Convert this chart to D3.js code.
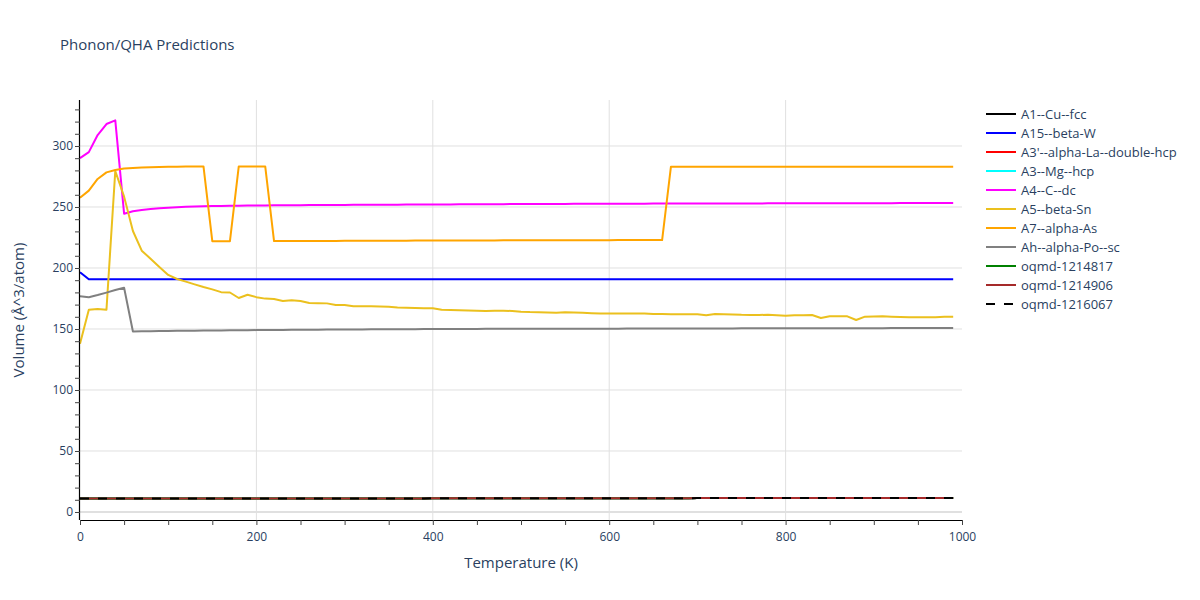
<!DOCTYPE html>
<html>
<head>
<meta charset="utf-8">
<script src="https://cdn.jsdelivr.net/npm/d3@7"></script>
<style>
  html, body { margin: 0; padding: 0; background: #fff; }
  text { font-family: "Open Sans", verdana, arial, sans-serif; }
</style>
</head>
<body>
<svg id="chart" width="1200" height="600"></svg>
<script>
const temperatures = [
  0, 10, 20, 30, 40, 50, 60, 70, 80, 90,
  100, 110, 120, 130, 140, 150, 160, 170, 180, 190,
  200, 210, 220, 230, 240, 250, 260, 270, 280, 290,
  300, 310, 320, 330, 340, 350, 360, 370, 380, 390,
  400, 410, 420, 430, 440, 450, 460, 470, 480, 490,
  500, 510, 520, 530, 540, 550, 560, 570, 580, 590,
  600, 610, 620, 630, 640, 650, 660, 670, 680, 690,
  700, 710, 720, 730, 740, 750, 760, 770, 780, 790,
  800, 810, 820, 830, 840, 850, 860, 870, 880, 890,
  900, 910, 920, 930, 940, 950, 960, 970, 980, 990
];

const seriesNames = [
  "A1--Cu--fcc", "A15--beta-W", "A3'--alpha-La--double-hcp", "A3--Mg--hcp",
  "A4--C--dc", "A5--beta-Sn", "A7--alpha-As", "Ah--alpha-Po--sc",
  "oqmd-1214817", "oqmd-1214906", "oqmd-1216067"
];
const seriesColors = [
  "#000000", "#0000ff", "#ff0000", "#00ffff",
  "#ff00ff", "#ebc01e", "#ffa500", "#808080",
  "#008000", "#a52a2a", "#000000"
];
const seriesDashed = [false, false, false, false, false, false, false, false, false, false, true];

const volA1 = [
  11.0, 11.0, 11.0, 11.0, 11.0, 11.0, 11.0, 11.0, 11.0, 11.0,
  11.0, 11.0, 11.0, 11.0, 11.0, 11.0, 11.0, 11.0, 11.0, 11.0,
  11.1, 11.1, 11.1, 11.1, 11.1, 11.1, 11.1, 11.1, 11.1, 11.1,
  11.1, 11.1, 11.1, 11.1, 11.1, 11.1, 11.1, 11.1, 11.1, 11.1,
  11.2, 11.2, 11.2, 11.2, 11.2, 11.2, 11.2, 11.2, 11.2, 11.2,
  11.2, 11.2, 11.2, 11.2, 11.2, 11.3, 11.3, 11.3, 11.3, 11.3,
  11.3, 11.3, 11.3, 11.3, 11.3, 11.3, 11.3, 11.3, 11.3, 11.3,
  11.4, 11.4, 11.4, 11.4, 11.4, 11.4, 11.4, 11.4, 11.4, 11.4,
  11.4, 11.4, 11.4, 11.4, 11.4, 11.5, 11.5, 11.5, 11.5, 11.5,
  11.5, 11.5, 11.5, 11.5, 11.5, 11.5, 11.5, 11.5, 11.5, 11.5
];
const volA15 = [
  196.5, 190.8, 190.7, 190.7, 190.7, 190.7, 190.7, 190.7, 190.7, 190.7,
  190.7, 190.7, 190.7, 190.7, 190.7, 190.7, 190.7, 190.7, 190.7, 190.7,
  190.7, 190.7, 190.7, 190.7, 190.7, 190.7, 190.7, 190.7, 190.7, 190.7,
  190.7, 190.7, 190.7, 190.7, 190.7, 190.7, 190.7, 190.7, 190.7, 190.7,
  190.7, 190.7, 190.7, 190.7, 190.7, 190.7, 190.7, 190.7, 190.7, 190.7,
  190.7, 190.7, 190.7, 190.7, 190.7, 190.7, 190.7, 190.7, 190.7, 190.7,
  190.7, 190.7, 190.7, 190.7, 190.7, 190.7, 190.7, 190.7, 190.7, 190.7,
  190.7, 190.7, 190.7, 190.7, 190.7, 190.7, 190.7, 190.7, 190.7, 190.7,
  190.7, 190.7, 190.7, 190.7, 190.7, 190.7, 190.7, 190.7, 190.7, 190.7,
  190.7, 190.7, 190.7, 190.7, 190.7, 190.7, 190.7, 190.7, 190.7, 190.7
];
const volA3p = volA1.slice();
const volA3 = volA1.slice();
const volA4 = [
  290, 295, 309, 318, 321, 244.5, 246.5, 247.5, 248.3, 249,
  249.4, 249.8, 250.1, 250.4, 250.6, 250.8, 250.9, 251.0, 251.1, 251.2,
  251.3, 251.3, 251.4, 251.4, 251.5, 251.5, 251.6, 251.6, 251.7, 251.7,
  251.7, 251.8, 251.8, 251.8, 251.9, 251.9, 251.9, 252.0, 252.0, 252.0,
  252.1, 252.1, 252.1, 252.2, 252.2, 252.2, 252.3, 252.3, 252.3, 252.4,
  252.4, 252.4, 252.5, 252.5, 252.5, 252.5, 252.6, 252.6, 252.6, 252.6,
  252.7, 252.7, 252.7, 252.7, 252.7, 252.8, 252.8, 252.8, 252.8, 252.8,
  252.8, 252.9, 252.9, 252.9, 252.9, 252.9, 252.9, 252.9, 253.0, 253.0,
  253.0, 253.0, 253.0, 253.0, 253.0, 253.1, 253.1, 253.1, 253.1, 253.1,
  253.1, 253.1, 253.1, 253.2, 253.2, 253.2, 253.2, 253.2, 253.2, 253.2
];
const volA5 = [
  138.0, 165.8, 166.4, 165.8, 279.5, 258.5, 230.3, 214.2, 207.6, 200.8,
  194.3, 191.0, 188.8, 186.6, 184.4, 182.5, 180.2, 179.9, 175.4, 178.1,
  176.1, 174.9, 174.6, 172.9, 173.6, 173.0, 171.3, 171.2, 171.0, 169.7,
  169.7, 168.6, 168.7, 168.6, 168.4, 168.2, 167.6, 167.4, 167.2, 167.1,
  167.0, 165.7, 165.5, 165.3, 165.1, 164.9, 164.8, 165.0, 165.0, 164.8,
  164.2, 163.9, 163.8, 163.6, 163.4, 163.7, 163.5, 163.3, 163.0, 162.8,
  162.6, 162.7, 162.8, 162.8, 162.8, 162.2, 162.2, 162.1, 162.1, 162.0,
  162.0, 161.2, 162.3, 162.1, 161.9, 161.6, 161.5, 161.5, 161.7, 161.3,
  160.9, 161.2, 161.3, 161.5, 159.0, 160.4, 160.4, 160.4, 157.4, 160.1,
  160.3, 160.4, 160.1, 159.8, 159.6, 159.6, 159.6, 159.6, 160.1, 160.1
];
const volA7 = [
  257.6, 263.4, 273.0, 278.4, 280.3, 281.5, 282.0, 282.4, 282.6, 282.8,
  282.9, 283.0, 283.1, 283.2, 283.2, 222.0, 222.0, 222.0, 283.2, 283.2,
  283.2, 283.2, 222.1, 222.1, 222.1, 222.1, 222.2, 222.2, 222.2, 222.2,
  222.3, 222.3, 222.3, 222.3, 222.4, 222.4, 222.4, 222.4, 222.5, 222.5,
  222.5, 222.5, 222.5, 222.6, 222.6, 222.6, 222.6, 222.6, 222.7, 222.7,
  222.7, 222.7, 222.7, 222.7, 222.8, 222.8, 222.8, 222.8, 222.8, 222.8,
  222.8, 222.9, 222.9, 222.9, 222.9, 222.9, 222.9, 283.0, 283.0, 283.0,
  283.0, 283.0, 283.0, 283.0, 283.0, 283.0, 283.0, 283.0, 283.0, 283.0,
  283.0, 283.0, 283.0, 283.0, 283.0, 283.0, 283.0, 283.0, 283.0, 283.0,
  283.0, 283.0, 283.0, 283.0, 283.0, 283.0, 283.0, 283.0, 283.0, 283.0
];
const volAh = [
  176.8, 176.0, 177.8, 179.8, 181.9, 183.8, 148.0, 148.1, 148.2, 148.3,
  148.4, 148.5, 148.5, 148.6, 148.7, 148.8, 148.8, 148.9, 148.9, 149.0,
  149.1, 149.1, 149.2, 149.2, 149.3, 149.3, 149.4, 149.4, 149.5, 149.5,
  149.6, 149.6, 149.6, 149.7, 149.7, 149.7, 149.8, 149.8, 149.8, 149.9,
  149.9, 149.9, 150.0, 150.0, 150.0, 150.0, 150.1, 150.1, 150.1, 150.1,
  150.1, 150.2, 150.2, 150.2, 150.2, 150.2, 150.3, 150.3, 150.3, 150.3,
  150.3, 150.3, 150.4, 150.4, 150.4, 150.4, 150.4, 150.4, 150.5, 150.5,
  150.5, 150.5, 150.5, 150.5, 150.5, 150.6, 150.6, 150.6, 150.6, 150.6,
  150.6, 150.6, 150.6, 150.7, 150.7, 150.7, 150.7, 150.7, 150.7, 150.7,
  150.7, 150.7, 150.8, 150.8, 150.8, 150.8, 150.8, 150.8, 150.8, 150.8
];
const volOqmd1214817 = volA1.slice();
const volOqmd1214906 = volA1.slice();
const volOqmd1216067 = volA1.slice();

const seriesValues = [
  volA1, volA15, volA3p, volA3, volA4, volA5, volA7, volAh,
  volOqmd1214817, volOqmd1214906, volOqmd1216067
];

const xTickValues = [0, 200, 400, 600, 800, 1000];
const yTickValues = [0, 50, 100, 150, 200, 250, 300];

const W = 1200, H = 600;
const plot = { left: 80, right: 962, top: 100, bottom: 520 };
const textColor = "#2a3f5f";
const fontStack = '"Open Sans", verdana, arial, sans-serif';

const svg = d3.select("#chart");
svg.append("rect").attr("width", W).attr("height", H).attr("fill", "#fff");

const x = d3.scaleLinear().domain([0, 1000]).range([plot.left, plot.right]);
const y = d3.scaleLinear().domain([-6.56, 337.7]).range([plot.bottom, plot.top]);

// grid
const grid = svg.append("g");
grid.selectAll("line.vg").data(xTickValues.filter(v => v > 0 && v < 1000)).enter()
  .append("line").attr("class", "vg")
  .attr("x1", d => x(d)).attr("x2", d => x(d))
  .attr("y1", plot.top).attr("y2", plot.bottom)
  .attr("stroke", "#e0e0e0").attr("stroke-width", 1);
grid.selectAll("line.hg").data(yTickValues.filter(v => v !== 0)).enter()
  .append("line").attr("class", "hg")
  .attr("x1", plot.left).attr("x2", plot.right)
  .attr("y1", d => y(d)).attr("y2", d => y(d))
  .attr("stroke", "#e0e0e0").attr("stroke-width", 1);
grid.append("line")
  .attr("x1", plot.left).attr("x2", plot.right)
  .attr("y1", y(0)).attr("y2", y(0))
  .attr("stroke", "#e0e0e0").attr("stroke-width", 2);

// lines
const lineGen = d3.line().x((d, i) => x(temperatures[i])).y(d => y(d));
const linesG = svg.append("g");
seriesValues.forEach((vals, k) => {
  linesG.append("path")
    .attr("d", lineGen(vals))
    .attr("fill", "none")
    .attr("stroke", seriesColors[k])
    .attr("stroke-width", 2)
    .attr("stroke-linejoin", "round")
    .attr("stroke-dasharray", seriesDashed[k] ? "9,9" : null);
});

// axes
const xAxis = d3.axisBottom(x).tickValues(d3.range(0, 1001, 50)).tickSize(5)
  .tickFormat(d => xTickValues.includes(d) ? d : "");
const gx = svg.append("g").attr("transform", `translate(0,${plot.bottom})`).call(xAxis);
gx.select(".domain").attr("stroke", "#000").attr("stroke-width", 1.2)
  .attr("d", `M${plot.left},0.5H${plot.right}`);
gx.selectAll(".tick line").attr("stroke", "#444");
gx.selectAll(".tick text").attr("fill", textColor).attr("font-size", 12).attr("dy", "1.05em")
  .style("font-family", fontStack);

const yAxis = d3.axisLeft(y).tickValues(d3.range(0, 331, 10)).tickSize(5)
  .tickFormat(d => yTickValues.includes(d) ? d : "");
const gy = svg.append("g").attr("transform", `translate(${plot.left},0)`).call(yAxis);
gy.select(".domain").attr("stroke", "#000").attr("stroke-width", 1.2)
  .attr("d", `M-0.5,${plot.top}V${plot.bottom}`);
gy.selectAll(".tick line").attr("stroke", "#444");
gy.selectAll(".tick text").attr("fill", textColor).attr("font-size", 12).attr("x", -7)
  .style("font-family", fontStack);

// titles
svg.append("text").attr("x", 60).attr("y", 50)
  .attr("fill", textColor).attr("font-size", 15).text("Phonon/QHA Predictions");
svg.append("text").attr("x", (plot.left + plot.right) / 2).attr("y", 568)
  .attr("text-anchor", "middle").attr("fill", textColor).attr("font-size", 15)
  .text("Temperature (K)");
svg.append("text").attr("transform", `translate(24,${(plot.top + plot.bottom) / 2}) rotate(-90)`)
  .attr("text-anchor", "middle").attr("fill", textColor).attr("font-size", 15)
  .text("Volume (Å^3/atom)");

// legend
const legend = svg.append("g");
seriesNames.forEach((name, k) => {
  const ly = 114 + k * 19;
  legend.append("line").attr("x1", 986).attr("x2", 1016).attr("y1", ly).attr("y2", ly)
    .attr("stroke", seriesColors[k]).attr("stroke-width", 2)
    .attr("stroke-dasharray", seriesDashed[k] ? "9,9" : null);
  legend.append("text").attr("x", 1021).attr("y", ly).attr("dy", "0.35em")
    .attr("fill", textColor).attr("font-size", 13).text(name);
});
</script>
</body>
</html>
